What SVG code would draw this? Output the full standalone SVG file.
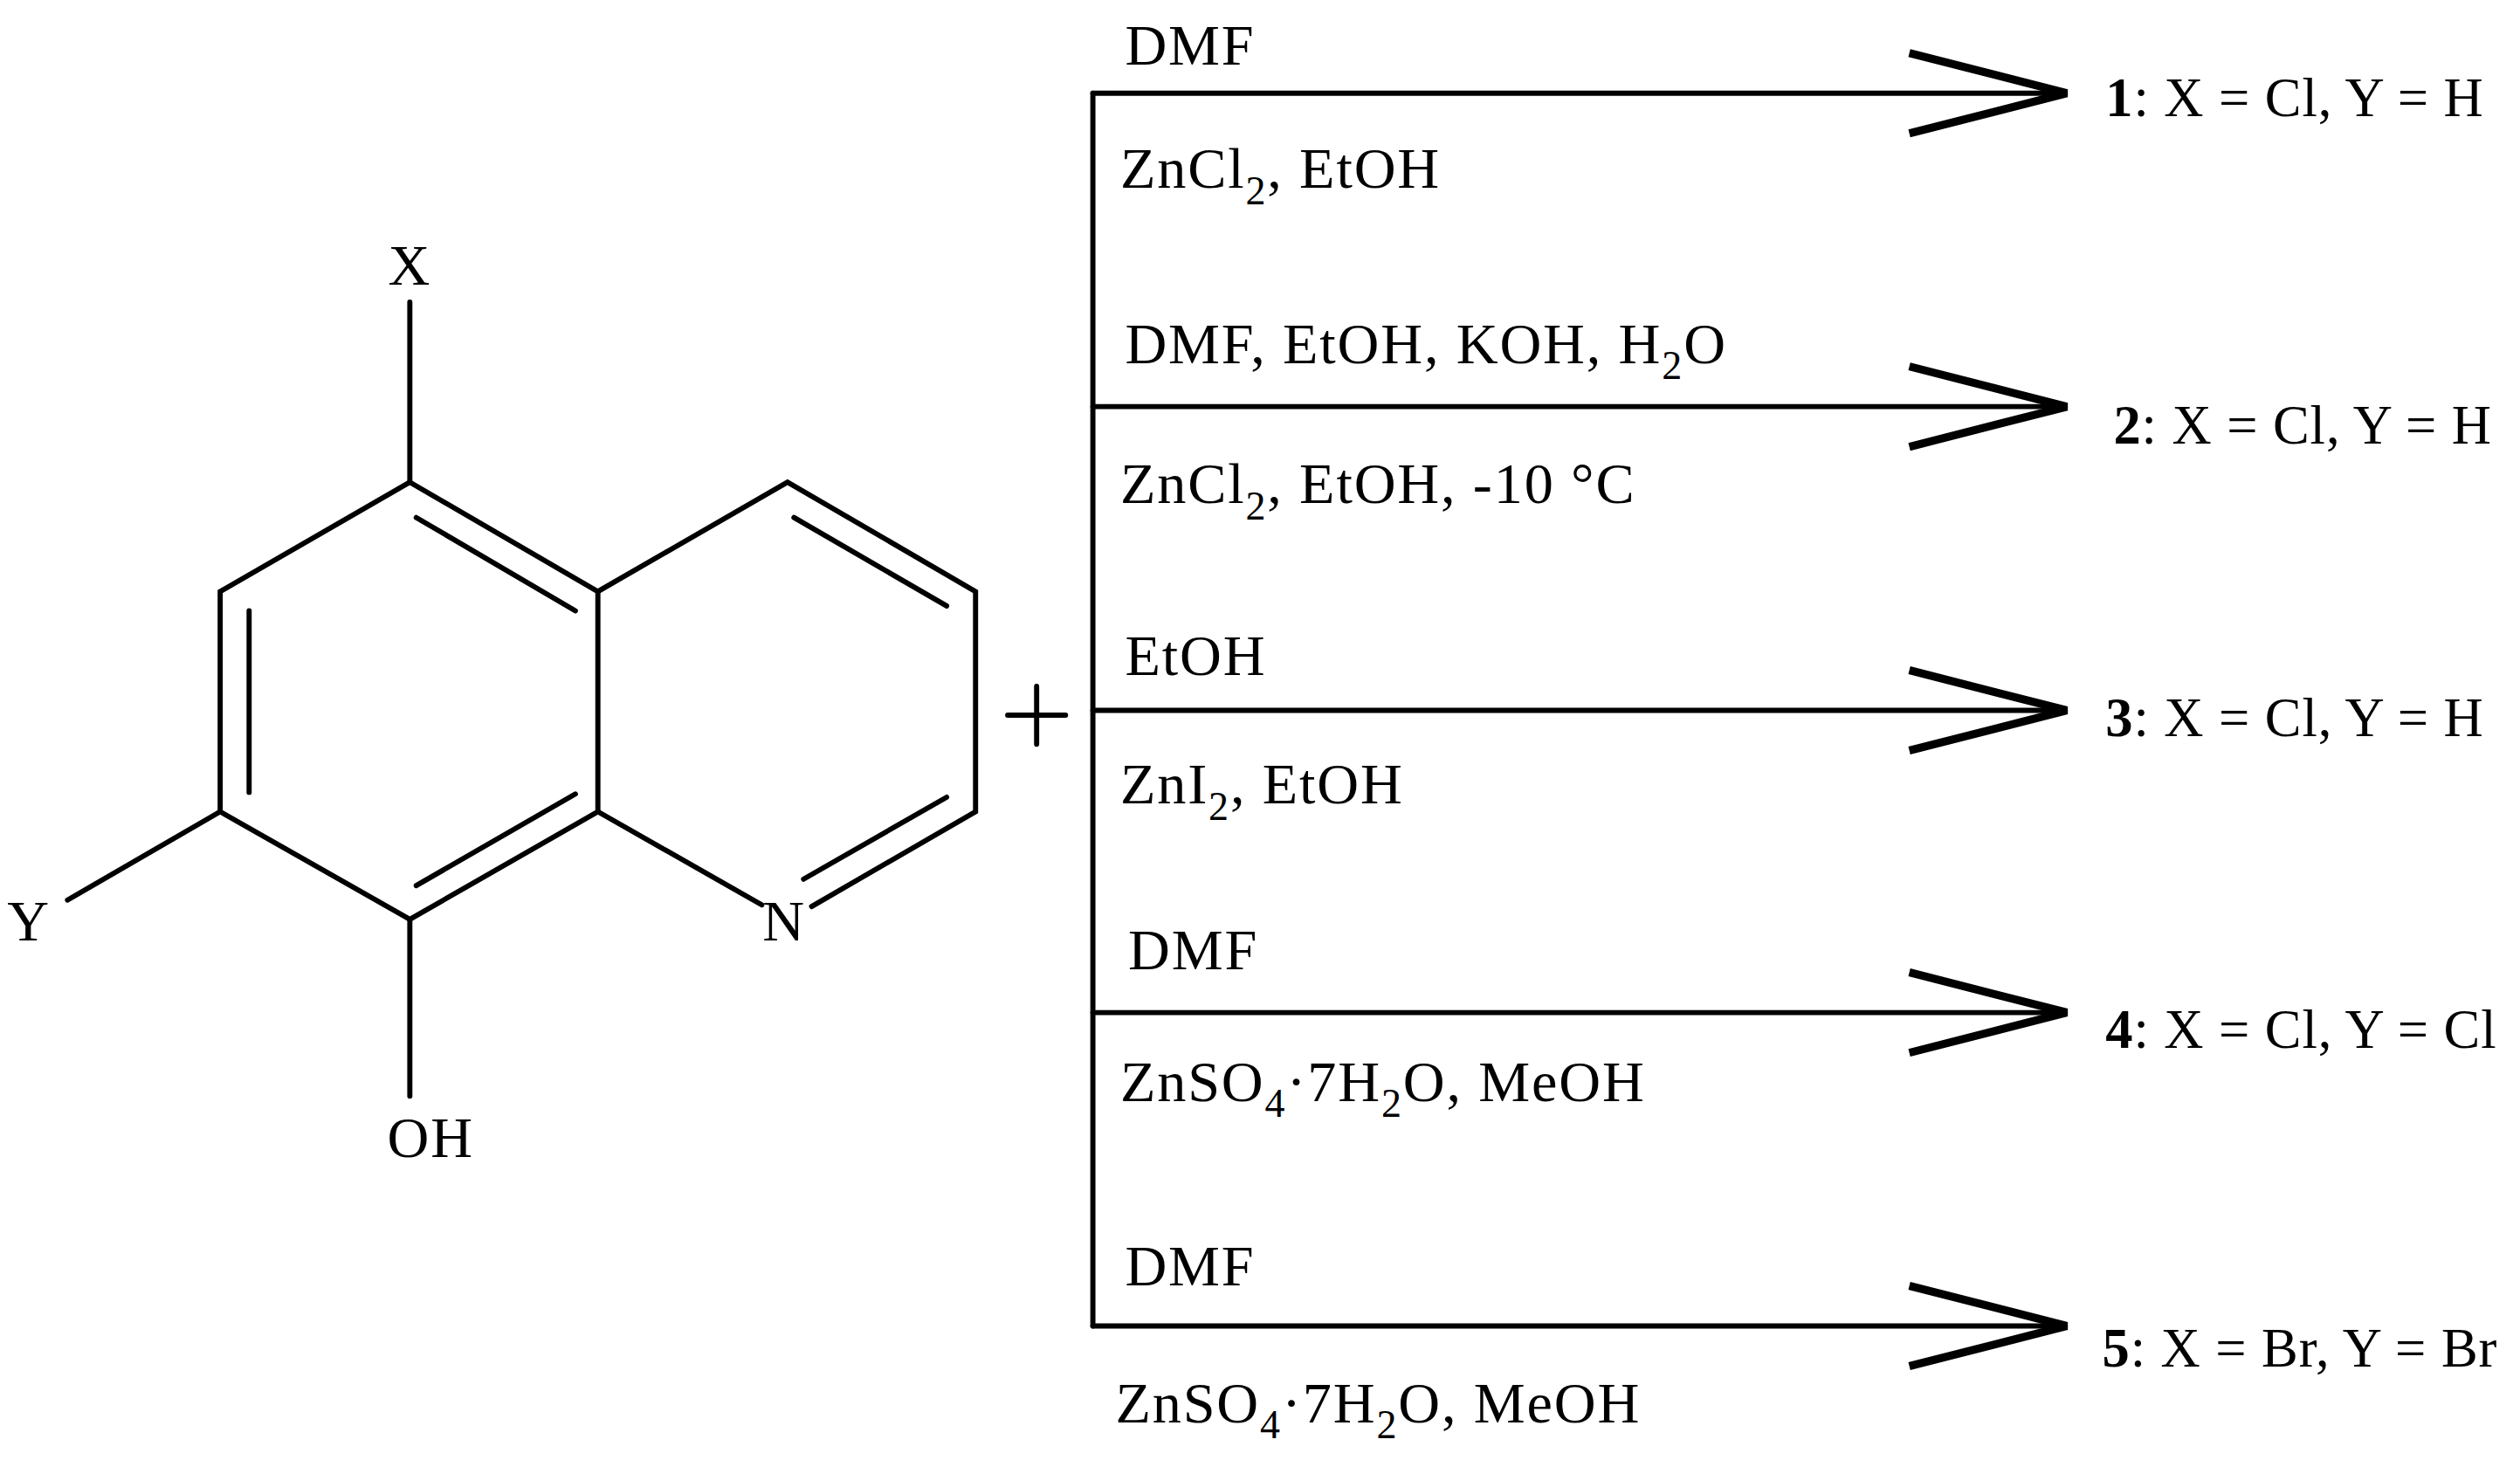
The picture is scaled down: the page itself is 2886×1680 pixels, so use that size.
<svg xmlns="http://www.w3.org/2000/svg" width="2886" height="1680" viewBox="0 0 2886 1680">
<style>
.b{stroke:#000;stroke-width:3.2;fill:none;stroke-linecap:round}
.h{stroke:#000;stroke-width:5;fill:none;stroke-linejoin:miter}
.t{font-family:"Liberation Serif",serif;font-size:36px;letter-spacing:1px;fill:#000}
.p{font-size:34px;letter-spacing:0.5px}
.s{font-size:25px}
.bd{font-weight:bold}
</style>
<rect width="2886" height="1680" fill="#fff"/>
<g transform="scale(1.8406)">
<g id="molecule">
<path class="b" d="M255,300 L372,368 L372,505 L255,572 L137,505 L137,368 Z"/>
<path class="b" d="M372,368 L490,300 L607,368 L607,505 L505,564"/>
<path class="b" d="M474,563 L372,505"/>
<path class="b" d="M259,322 L358,380"/>
<path class="b" d="M155,380 L155,493"/>
<path class="b" d="M259,551 L358,494"/>
<path class="b" d="M494,322 L589,377"/>
<path class="b" d="M589,496 L500,547"/>
<path class="b" d="M255,300 L255,188"/>
<path class="b" d="M137,505 L42,560"/>
<path class="b" d="M255,572 L255,682"/>
<text class="t" x="255" y="177" text-anchor="middle">X</text>
<text class="t" x="18" y="585" text-anchor="middle">Y</text>
<text class="t" x="488" y="585" text-anchor="middle">N</text>
<text class="t" x="268" y="720" text-anchor="middle">OH</text>
</g>
<g id="plus"><path class="b" d="M627,445 L663,445 M645,427 L645,463"/></g>
<g id="connectors">
<path class="b" d="M680,58 L680,825"/>
<path class="b" d="M680,58 L1285,58"/><path class="h" d="M1188,33 L1286,58 L1188,83"/>
<path class="b" d="M680,253 L1285,253"/><path class="h" d="M1188,228 L1286,253 L1188,278"/>
<path class="b" d="M680,442 L1285,442"/><path class="h" d="M1188,417 L1286,442 L1188,467"/>
<path class="b" d="M680,630 L1285,630"/><path class="h" d="M1188,605 L1286,630 L1188,655"/>
<path class="b" d="M680,825 L1285,825"/><path class="h" d="M1188,800 L1286,825 L1188,850"/>
</g>
<g id="r1">
<text class="t" x="700" y="40">DMF</text>
<text class="t" x="697" y="117">ZnCl<tspan class="s" dy="10">2</tspan><tspan dy="-10">, EtOH</tspan></text>
<text class="t p" x="1310" y="72"><tspan class="bd">1</tspan>: X = Cl, Y = H</text>
</g>
<g id="r2">
<text class="t" x="700" y="226">DMF, EtOH, KOH, H<tspan class="s" dy="10">2</tspan><tspan dy="-10">O</tspan></text>
<text class="t" x="697" y="313">ZnCl<tspan class="s" dy="10">2</tspan><tspan dy="-10">, EtOH, -10 °C</tspan></text>
<text class="t p" x="1315" y="276"><tspan class="bd">2</tspan>: X = Cl, Y = H</text>
</g>
<g id="r3">
<text class="t" x="700" y="420">EtOH</text>
<text class="t" x="697" y="500">ZnI<tspan class="s" dy="10">2</tspan><tspan dy="-10">, EtOH</tspan></text>
<text class="t p" x="1310" y="458"><tspan class="bd">3</tspan>: X = Cl, Y = H</text>
</g>
<g id="r4">
<text class="t" x="702" y="603">DMF</text>
<text class="t" x="697" y="685">ZnSO<tspan class="s" dy="10">4</tspan><tspan dy="-10">·7H</tspan><tspan class="s" dy="10">2</tspan><tspan dy="-10">O, MeOH</tspan></text>
<text class="t p" x="1310" y="652"><tspan class="bd">4</tspan>: X = Cl, Y = Cl</text>
</g>
<g id="r5">
<text class="t" x="700" y="800">DMF</text>
<text class="t" x="694" y="885">ZnSO<tspan class="s" dy="10">4</tspan><tspan dy="-10">·7H</tspan><tspan class="s" dy="10">2</tspan><tspan dy="-10">O, MeOH</tspan></text>
<text class="t p" x="1308" y="850"><tspan class="bd">5</tspan>: X = Br, Y = Br</text>
</g>
</g>
</svg>
